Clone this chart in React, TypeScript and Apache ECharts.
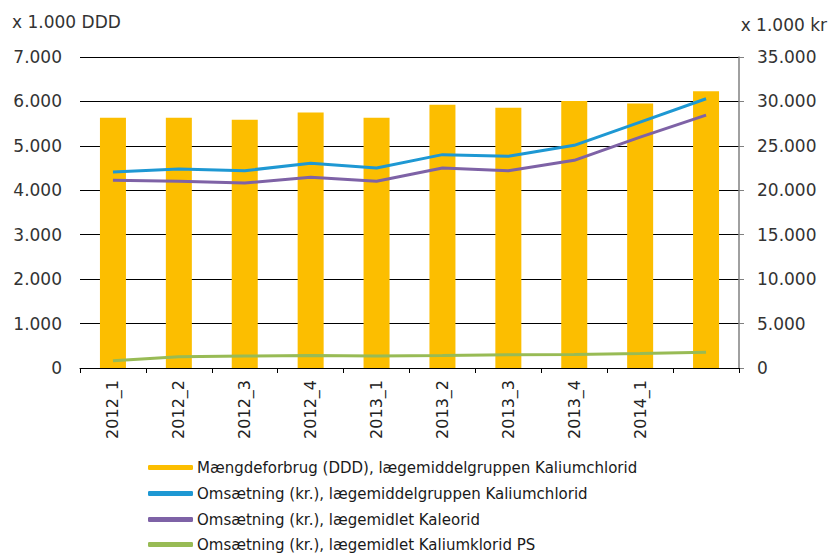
import React, { useEffect, useRef } from "react";
import * as echarts from "echarts";

const categories = ["2012_1", "2012_2", "2012_3", "2012_4", "2013_1", "2013_2", "2013_3", "2013_4", "2014_1", ""];
const ddd = [5630, 5630, 5590, 5750, 5630, 5925, 5860, 6010, 5955, 6230];
const omsGruppe = [22060, 22390, 22210, 23030, 22500, 24010, 23820, 25060, 27670, 30300];
const omsKaleorid = [21120, 21010, 20820, 21460, 21010, 22500, 22210, 23370, 25990, 28460];
const omsPS = [820, 1270, 1350, 1420, 1350, 1400, 1500, 1520, 1630, 1760];
const leftTicks = { min: 0, max: 7000, interval: 1000 };
const rightTicks = { min: 0, max: 35000, interval: 5000 };

const names = [
  "Mængdeforbrug (DDD), lægemiddelgruppen Kaliumchlorid",
  "Omsætning (kr.), lægemiddelgruppen Kaliumchlorid",
  "Omsætning (kr.), lægemidlet Kaleorid",
  "Omsætning (kr.), lægemidlet Kaliumklorid PS",
];
const colors = ["#FCBE00", "#1E98D3", "#7E62A6", "#98BB55"];

const fmt = (v: number) => {
  const s = String(Math.round(v));
  return s.replace(/\B(?=(\d{3})+(?!\d))/g, ".");
};

const FONT = "DejaVu Sans";
const legendCenters = [466, 492, 518, 543];

export default function App() {
  const ref = useRef<HTMLDivElement>(null);
  useEffect(() => {
    document.body.style.margin = "0";
    const chart = echarts.init(ref.current!, null, { renderer: "svg" });
    chart.setOption({
      animation: false,
      textStyle: { fontFamily: FONT },
      graphic: [
        { type: "text", left: 12, top: 13, style: { text: "x 1.000 DDD", font: `17px ${FONT}`, fill: "#333" } },
        { type: "text", right: 2, top: 16, style: { text: "x 1.000 kr", font: `17px ${FONT}`, fill: "#333" } },
      ],
      grid: { left: 80, right: 90, top: 57, bottom: 186, containLabel: false },
      legend: names.map((n, i) => ({
        orient: "vertical",
        left: 143,
        top: legendCenters[i] - 11,
        itemWidth: 45,
        itemHeight: 5,
        itemGap: 0,
        textStyle: { fontSize: 15, color: "#1a1a1a", fontFamily: FONT, padding: [0, 0, 0, -1] },
        data: [{ name: n, icon: "roundRect" }],
      })),
      xAxis: {
        type: "category",
        data: categories,
        boundaryGap: true,
        axisLine: { show: true, lineStyle: { color: "#000", width: 1 } },
        axisTick: { show: true, length: 5, alignWithLabel: false, lineStyle: { color: "#000" } },
        axisLabel: { rotate: 90, fontSize: 16, color: "#222", margin: 12, interval: 0, fontFamily: FONT },
      },
      yAxis: [
        {
          type: "value",
          ...leftTicks,
          position: "left",
          axisLine: { show: false },
          axisTick: { show: false },
          splitLine: { show: true, lineStyle: { color: "#000", width: 1 } },
          axisLabel: { fontSize: 17, color: "#333", margin: 18, formatter: fmt, fontFamily: FONT },
        },
        {
          type: "value",
          ...rightTicks,
          position: "right",
          axisLine: { show: true, lineStyle: { color: "#808080", width: 1.5 } },
          axisTick: { show: true, length: 5, inside: false, lineStyle: { color: "#808080" } },
          splitLine: { show: false },
          axisLabel: { fontSize: 17, color: "#333", margin: 18, formatter: fmt, fontFamily: FONT },
        },
      ],
      series: [
        { name: names[0], type: "bar", data: ddd, yAxisIndex: 0, barWidth: 26, itemStyle: { color: colors[0] } },
        { name: names[1], type: "line", data: omsGruppe, yAxisIndex: 1, symbol: "none", lineStyle: { color: colors[1], width: 3 }, itemStyle: { color: colors[1] } },
        { name: names[2], type: "line", data: omsKaleorid, yAxisIndex: 1, symbol: "none", lineStyle: { color: colors[2], width: 3 }, itemStyle: { color: colors[2] } },
        { name: names[3], type: "line", data: omsPS, yAxisIndex: 1, symbol: "none", lineStyle: { color: colors[3], width: 3 }, itemStyle: { color: colors[3] } },
      ],
    });
    return () => chart.dispose();
  }, []);
  return <div ref={ref} style={{ width: 829, height: 554 }} />;
}
